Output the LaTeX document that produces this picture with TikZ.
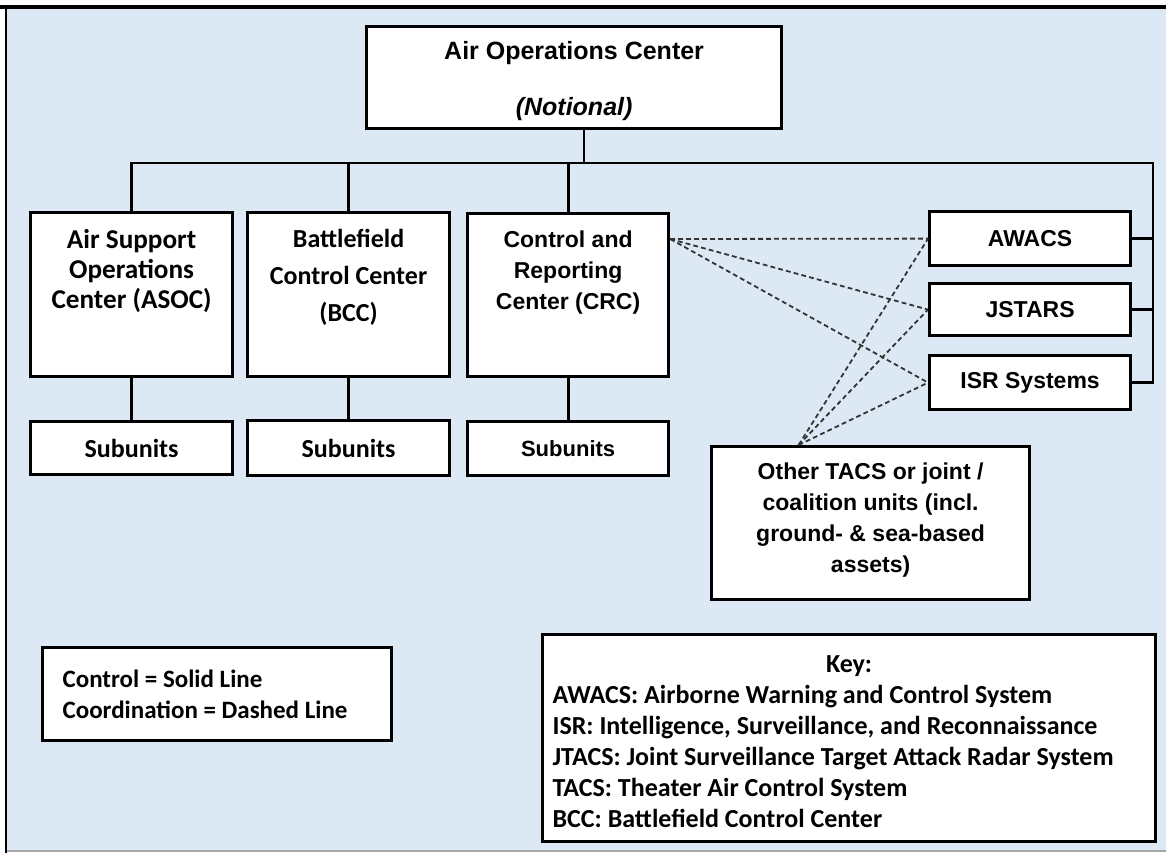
\documentclass[tikz,border=0pt]{standalone}
\usepackage{fontspec}
\setmainfont{Carlito}
\newfontfamily\arialf{Liberation Sans}
\definecolor{bgblue}{RGB}{221,232,245}
\newcommand{\boxtext}[4][t]{\parbox[c][#3][#1]{#2}{\centering #4}}

\begin{document}
\begin{tikzpicture}[x=0.5pt, y=-0.5pt,
        unit/.style={draw, fill=white, line width=1.6pt, inner sep=0pt, anchor=north west},
        ctrl/.style={line width=1.4pt},
        coord/.style={line width=0.9pt, draw=black!80, dash pattern=on 2.4pt off 1.6pt}]
  \fill[white] (0,0) rectangle (1166,853);
  \useasboundingbox (0,0) rectangle (1166,853);
  \fill[bgblue] (6,7) rectangle (1166,851);
  \draw[black!35, line width=0.6pt] (6,851) -- (1166,851);
  \draw[line width=1.6pt] (0,7) -- (1166,7);
  \draw[line width=1pt] (6,7) -- (6,853);

  \node[unit, font=\arialf\fontsize{12.5}{28}\selectfont\bfseries] (aoc) at (365,25)
    {\boxtext{207.5pt}{51pt}{\vspace*{7.5pt}Air Operations Center\\\textit{(Notional)}}};
  \node[unit, font=\fontsize{13.6}{15}\selectfont\bfseries] (asoc) at (29,211)
    {\boxtext{101pt}{82pt}{\vspace*{8.5pt}Air Support\\Operations\\Center (ASOC)}};
  \node[unit, font=\fontsize{13}{18.5}\selectfont\bfseries] (bcc) at (246,211)
    {\boxtext{101pt}{82pt}{\vspace*{8.5pt}Battlefield\\Control Center\\(BCC)}};
  \node[unit, font=\arialf\fontsize{11.5}{15.5}\selectfont\bfseries] (crc) at (466,212)
    {\boxtext{100.5pt}{81.5pt}{\vspace*{8.4pt}Control and\\Reporting\\Center (CRC)}};
  \node[unit, font=\fontsize{13}{15}\selectfont\bfseries] (asub) at (29,420)
    {\boxtext[c]{101pt}{26.5pt}{Subunits}};
  \node[unit, font=\fontsize{13}{15}\selectfont\bfseries] (bsub) at (246,419)
    {\boxtext[c]{101pt}{27.5pt}{Subunits}};
  \node[unit, font=\arialf\fontsize{11}{15}\selectfont\bfseries] (csub) at (466,420)
    {\boxtext[c]{100.5pt}{27pt}{Subunits}};
  \node[unit, font=\arialf\fontsize{11.5}{15}\selectfont\bfseries] (awacs) at (928,210)
    {\boxtext[c]{100.5pt}{27pt}{AWACS}};
  \node[unit, font=\arialf\fontsize{11.5}{15}\selectfont\bfseries] (jstars) at (928,282)
    {\boxtext[c]{100.5pt}{26pt}{JSTARS}};
  \node[unit, font=\arialf\fontsize{11.5}{15}\selectfont\bfseries] (isr) at (928,354)
    {\boxtext[c]{100.5pt}{27pt}{ISR Systems}};
  \node[unit, font=\arialf\fontsize{11.5}{15.5}\selectfont\bfseries] (other) at (710,445)
    {\boxtext{159pt}{76.5pt}{\vspace*{8pt}Other TACS or joint /\\coalition units (incl.\\ground- \& sea-based\\assets)}};
  \node[unit, font=\fontsize{12.5}{15.5}\selectfont\bfseries] (legend) at (41,646)
    {\parbox[c][46.5pt][c]{174.5pt}{\leftskip=10pt Control = Solid Line\\Coordination = Dashed Line}};
  \node[unit, font=\fontsize{13}{15.5}\selectfont\bfseries] (key) at (541,633)
    {\parbox[c][103.5pt][t]{306.5pt}{\vspace*{10.5pt}\centering Key:\par
      \raggedright\leftskip=5pt
      AWACS: Airborne Warning and Control System\\
      ISR: Intelligence, Surveillance, and Reconnaissance\\
      JTACS: Joint Surveillance Target Attack Radar System\\
      TACS: Theater Air Control System\\
      BCC: Battlefield Control Center}};

  \coordinate (hub) at (584,163);
  \coordinate (rail) at (1153,163);
  \draw[ctrl] (aoc.south -| hub) -- (hub);
  \draw[ctrl] (asoc.north) |- (rail) |- (isr.east);
  \foreach \a in {bcc, crc}
    \draw[ctrl] (\a.north) -- (\a.north |- rail);
  \foreach \a/\b in {asoc/asub, bcc/bsub, crc/csub}
    \draw[ctrl] (\a.south) -- (\b.north);
  \foreach \t in {awacs, jstars}
    \draw[ctrl] (\t.east) -- (\t.east -| rail);
  \foreach \t in {awacs, jstars, isr} {
    \draw[coord] ([yshift=-13.5pt]crc.north east) -- (\t.west);
    \draw[coord] ([xshift=-36pt]other.north) -- (\t.west);
  }
\end{tikzpicture}
\end{document}
